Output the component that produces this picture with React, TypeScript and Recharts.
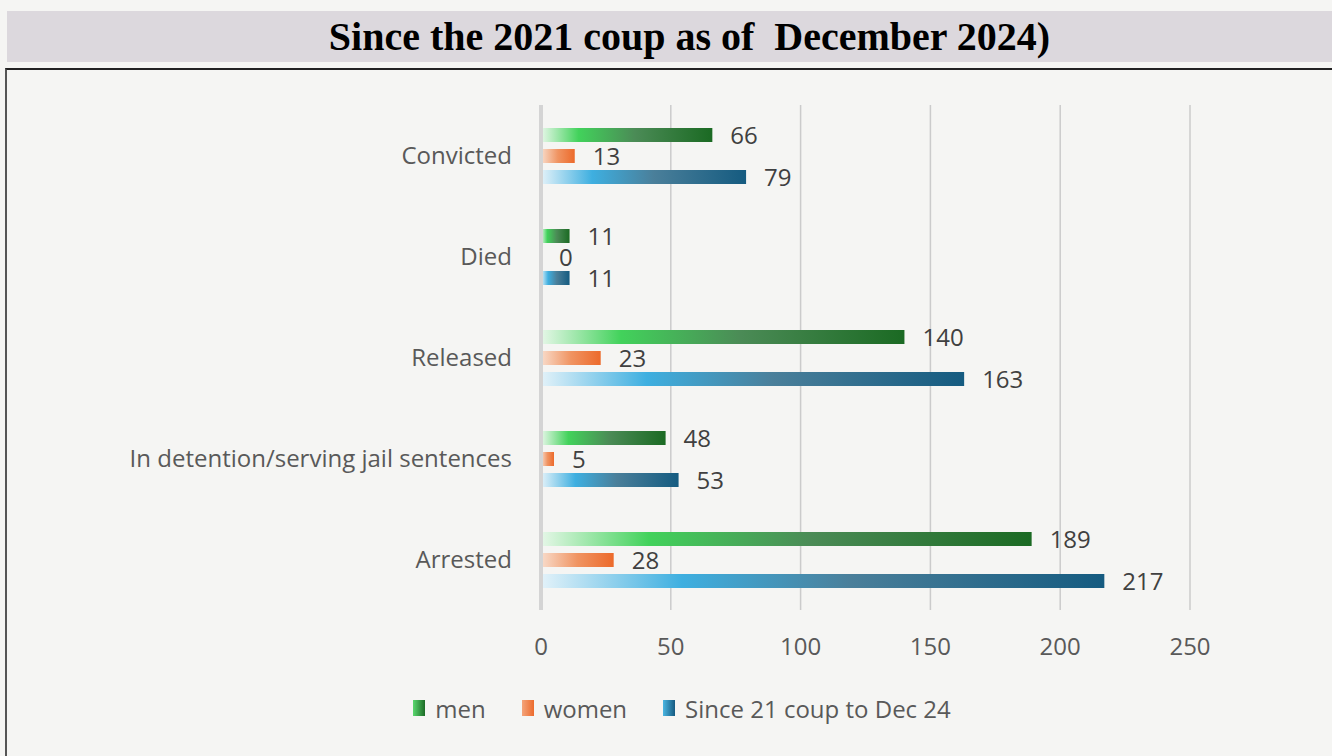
import React from "react";
import {
  BarChart,
  Bar,
  XAxis,
  YAxis,
  CartesianGrid,
  Legend,
  LabelList,
  ReferenceLine,
} from "recharts";

const categories = [
  "Convicted",
  "Died",
  "Released",
  "In detention/serving jail sentences",
  "Arrested",
];
const men = [66, 11, 140, 48, 189];
const women = [13, 0, 23, 5, 28];
const total = [79, 11, 163, 53, 217];
const xTicks = [0, 50, 100, 150, 200, 250];
const seriesNames = ["men", "women", "Since 21 coup to Dec 24"];

const data = categories.map((c, i) => ({
  name: c,
  men: men[i],
  women: women[i],
  total: total[i],
}));

const FONT = "'Open Sans', 'Noto Sans', sans-serif";

const legendItems = [
  { label: seriesNames[0], bg: "linear-gradient(to right, #5ad86e, #1c6b26)" },
  { label: seriesNames[1], bg: "linear-gradient(to right, #f4a47a, #ec6b2d)" },
  { label: seriesNames[2], bg: "linear-gradient(to right, #4ab6e2, #165a80)" },
];

const renderLegend = () => (
  <div
    style={{
      display: "flex",
      justifyContent: "center",
      alignItems: "center",
      height: 30,
      paddingLeft: 32,
      fontFamily: FONT,
      fontSize: 24,
      color: "#595959",
    }}
  >
    {legendItems.map((it, i) => (
      <div
        key={i}
        style={{
          display: "flex",
          alignItems: "center",
          marginRight: i < legendItems.length - 1 ? 36 : 0,
        }}
      >
        <div style={{ width: 12, height: 16, background: it.bg, marginRight: 10 }} />
        <span>{it.label}</span>
      </div>
    ))}
  </div>
);

export default function App() {
  return (
    <div
      style={{
        position: "fixed",
        left: 0,
        top: 0,
        width: 1332,
        height: 756,
        background: "#f5f5f3",
        overflow: "hidden",
      }}
    >
      <div
        style={{
          position: "absolute",
          left: 7,
          top: 11,
          width: 1325,
          height: 51,
          background: "#dcd8dd",
          display: "flex",
          alignItems: "center",
          justifyContent: "center",
        }}
      >
        <span
          style={{
            fontFamily: "'Liberation Serif', 'Times New Roman', serif",
            fontWeight: "bold",
            fontSize: 40,
            color: "#000",
            whiteSpace: "pre",
            marginLeft: 40,
          }}
        >
          {"Since the 2021 coup as of  December 2024)"}
        </span>
      </div>
      <div
        style={{
          position: "absolute",
          left: 5,
          top: 68,
          width: 1340,
          height: 700,
          borderTop: "2px solid #222",
          borderLeft: "2px solid #555",
        }}
      />
      <div style={{ position: "absolute", left: 0, top: 0 }}>
        <BarChart
          width={1332}
          height={756}
          data={data}
          layout="vertical"
          margin={{ top: 105, right: 142, bottom: 56, left: 0 }}
          barSize={14}
          barGap={7}
        >
          <defs>
            <linearGradient id="gMen" x1="0" y1="0" x2="1" y2="0">
              <stop offset="0%" stopColor="#e6f7e8" />
              <stop offset="22%" stopColor="#42d25b" />
              <stop offset="55%" stopColor="#4b8b56" />
              <stop offset="100%" stopColor="#1b6a23" />
            </linearGradient>
            <linearGradient id="gWomen" x1="0" y1="0" x2="1" y2="0">
              <stop offset="0%" stopColor="#f8dccb" />
              <stop offset="50%" stopColor="#f09462" />
              <stop offset="100%" stopColor="#ec6a2b" />
            </linearGradient>
            <linearGradient id="gTotal" x1="0" y1="0" x2="1" y2="0">
              <stop offset="0%" stopColor="#e3f2f9" />
              <stop offset="25%" stopColor="#3eafe0" />
              <stop offset="55%" stopColor="#4a7f9a" />
              <stop offset="100%" stopColor="#155b80" />
            </linearGradient>
          </defs>
          <CartesianGrid horizontal={false} vertical={true} stroke="#cbcbcb" strokeWidth={1.5} />
          <XAxis
            type="number"
            domain={[0, 250]}
            ticks={xTicks}
            axisLine={false}
            tickLine={false}
            tickSize={0}
            tickMargin={28}
            height={60}
            tick={{ fill: "#595959", fontSize: 24, fontFamily: FONT }}
            interval={0}
          />
          <YAxis
            type="category"
            dataKey="name"
            width={541}
            axisLine={false}
            tickLine={false}
            tickSize={0}
            tickMargin={29}
            tick={{ fill: "#595959", fontSize: 24, fontFamily: FONT }}
            interval={0}
          />
          <ReferenceLine x={0} stroke="#d4d4d4" strokeWidth={4} />
          <Bar dataKey="men" name={seriesNames[0]} fill="url(#gMen)" isAnimationActive={false}>
            <LabelList dataKey="men" position="right" offset={18} fill="#404040" fontSize={24} fontFamily={FONT} />
          </Bar>
          <Bar dataKey="women" name={seriesNames[1]} fill="url(#gWomen)" minPointSize={0.01} isAnimationActive={false}>
            <LabelList dataKey="women" position="right" offset={18} fill="#404040" fontSize={24} fontFamily={FONT} />
          </Bar>
          <Bar dataKey="total" name={seriesNames[2]} fill="url(#gTotal)" isAnimationActive={false}>
            <LabelList dataKey="total" position="right" offset={18} fill="#404040" fontSize={24} fontFamily={FONT} />
          </Bar>
          <Legend
            verticalAlign="bottom"
            content={renderLegend}
            wrapperStyle={{ bottom: 33, left: 0, width: 1332, height: 30 }}
          />
        </BarChart>
      </div>
    </div>
  );
}
